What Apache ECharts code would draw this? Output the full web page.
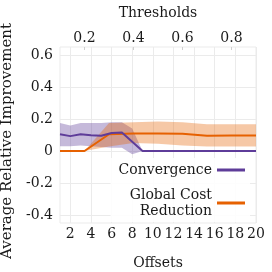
<!DOCTYPE html>
<html><head><meta charset="utf-8">
<script src="https://cdn.jsdelivr.net/npm/echarts@6/dist/echarts.min.js"></script>
<style>html,body{margin:0;padding:0;background:#fff}#c{width:272px;height:272px}</style>
</head><body><div id="c"></div>
<script>
// ---- data ----
const offsets = [1,2,3,4,5,6,7,8,9,10,11,12,13,14,15,16,17,18,19,20];
const convergence     = [0.104,0.093,0.104,0.098,0.095,0.113,0.115,0.058,0,0,0,0,0,0,0,0,0,0,0,0];
const convergenceHigh = [0.175,0.160,0.175,0.175,0.175,0.180,0.180,0.140,0,0,0,0,0,0,0,0,0,0,0,0];
const convergenceLow  = [0.030,0.030,0.035,0.030,0.025,0.020,0.020,-0.020,0,0,0,0,0,0,0,0,0,0,0,0];

const thresholds = [0.1,0.2,0.3,0.4,0.5,0.6,0.7,0.8,0.9];
const costReduction     = [0,0,0.105,0.110,0.110,0.108,0.095,0.097,0.097];
const costReductionHigh = [0,0,0.175,0.180,0.185,0.180,0.167,0.167,0.167];
const costReductionLow  = [0,0,0.028,0.050,0.045,0.035,0.028,0.028,0.028];

const yTicks = [-0.4,-0.2,0,0.2,0.4,0.6];
const offsetTicks = [2,4,6,8,10,12,14,16,18,20];
const thresholdTicks = [0.2,0.4,0.6,0.8];

const seriesNames = ['Convergence','Global Cost Reduction'];

// ---- style ----
const F = 'DejaVu Serif';
const TXT = '#1a1a1a';
const GRID = '#ebebeb';
const PURPLE = '#5e3c99';
const ORANGE = '#e66101';

const zip = (xs, ys) => xs.map((x,i)=>[x, ys[i]]);
const bandRows = (xs, lo, hi) => xs.map((x,i)=>[x, lo[i], hi[i]]);

function bandRenderer(rows, color, opacity){
  return function(params, api){
    if (params.dataIndex !== 0) return null;
    const upper = rows.map(r => api.coord([r[0], r[2]]));
    const lower = rows.map(r => api.coord([r[0], r[1]])).reverse();
    return {type:'polygon', shape:{points:upper.concat(lower)},
            style:{fill:color, opacity:opacity}, silent:true};
  };
}

const convRows = bandRows(offsets, convergenceLow, convergenceHigh);
const costRows = bandRows(thresholds, costReductionLow, costReductionHigh);

const chart = echarts.init(document.getElementById('c'), null, {renderer:'canvas'});
chart.setOption({
  animation:false,
  grid:{left:60,right:16,top:47,bottom:49,show:true,borderColor:GRID,borderWidth:1,
        backgroundColor:'transparent',outerBoundsMode:'none',containLabel:false},
  xAxis:[
    {type:'value',position:'bottom',min:1,max:20,
     name:'Offsets',nameLocation:'middle',nameGap:33,
     nameTextStyle:{fontFamily:F,fontSize:14,color:TXT},
     axisLine:{show:false},
     axisTick:{show:false,customValues:offsetTicks},
     axisLabel:{customValues:offsetTicks,margin:4,fontFamily:F,fontSize:14,color:TXT},
     splitLine:{show:true,lineStyle:{color:GRID,width:1}}},
    {type:'value',position:'top',min:0.1,max:0.9,
     name:'Thresholds',nameLocation:'middle',nameGap:27,
     nameTextStyle:{fontFamily:F,fontSize:14,color:TXT},
     axisLine:{show:false},
     axisTick:{show:true,inside:true,length:3,customValues:thresholdTicks,lineStyle:{color:'#cfcfcf'}},
     axisLabel:{customValues:thresholdTicks,margin:2,fontFamily:F,fontSize:14,color:TXT},
     splitLine:{show:false}}
  ],
  yAxis:{type:'value',min:-0.45,max:0.65,
     name:'Average Relative Improvement',nameLocation:'middle',nameGap:41,nameRotate:90,
     nameTextStyle:{fontFamily:F,fontSize:15,color:TXT,padding:[0,12,0,0]},
     axisLine:{show:false},
     axisTick:{show:false,customValues:yTicks},
     axisLabel:{customValues:yTicks,margin:7,fontFamily:F,fontSize:14,color:TXT},
     splitLine:{show:true,lineStyle:{color:GRID,width:1}}},
  legend:{
    data:seriesNames,
    formatter:n => n==='Global Cost Reduction' ? 'Global Cost\nReduction' : n,
    orient:'vertical',align:'right',right:22,top:158,
    icon:'rect',itemWidth:28,itemHeight:3,itemGap:9,
    backgroundColor:'rgba(255,255,255,0.9)',padding:[4,5,3,8],
    textStyle:{fontFamily:F,fontSize:14,lineHeight:16,color:TXT}
  },
  series:[
    {name:'convBand',type:'custom',xAxisIndex:0,data:convRows,
     renderItem:bandRenderer(convRows,PURPLE,0.36),silent:true,z:1,clip:true},
    {name:'costBand',type:'custom',xAxisIndex:1,data:costRows,
     renderItem:bandRenderer(costRows,ORANGE,0.35),silent:true,z:1,clip:true},
    {name:'Global Cost Reduction',type:'line',xAxisIndex:1,data:zip(thresholds,costReduction),
     symbol:'none',lineStyle:{color:ORANGE,width:2},itemStyle:{color:ORANGE},z:3},
    {name:'Convergence',type:'line',xAxisIndex:0,data:zip(offsets,convergence),
     symbol:'none',lineStyle:{color:PURPLE,width:2},itemStyle:{color:PURPLE},z:3}
  ]
});
</script></body></html>
